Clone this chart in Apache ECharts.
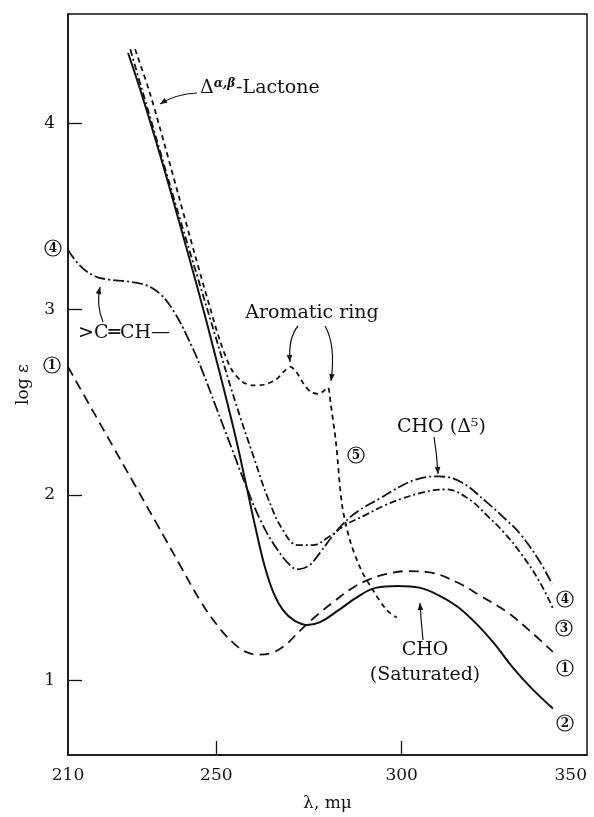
<!DOCTYPE html>
<html>
<head>
<meta charset="utf-8">
<script src="https://cdn.jsdelivr.net/npm/echarts@6/dist/echarts.min.js"></script>
<style>
html, body { margin: 0; padding: 0; background: #fff; }
#main { width: 594px; height: 817px; }
</style>
</head>
<body>
<div id="main"></div>
<script>
// wavelength (mμ) and log ε
var wl1 = [210, 216, 222, 228, 234, 240, 245.6, 250.2, 254.5, 258, 261.5, 265, 268.5, 272.6, 277, 282, 286, 290.6, 296, 301.4, 307, 314.9, 321, 328.4, 334.5, 340.8];
var logE1 = [2.69, 2.478, 2.266, 2.055, 1.843, 1.63, 1.433, 1.30, 1.205, 1.155, 1.14, 1.15, 1.19, 1.27, 1.35, 1.43, 1.49, 1.54, 1.575, 1.59, 1.585, 1.53, 1.46, 1.37, 1.27, 1.155];

var wl2 = [226.2, 230, 235, 240, 245, 250, 255, 258, 260.5, 263, 265.5, 268, 271, 274.5, 278, 283, 288, 293, 299, 305, 310, 315, 320, 325, 330, 335, 340.8];
var logE2 = [4.38, 4.15, 3.82, 3.47, 3.11, 2.73, 2.33, 2.06, 1.83, 1.62, 1.47, 1.38, 1.325, 1.30, 1.315, 1.38, 1.45, 1.50, 1.51, 1.50, 1.46, 1.40, 1.31, 1.20, 1.07, 0.96, 0.85];

var wl3 = [226.8, 230, 235, 240, 245, 250, 255, 260, 264, 268, 272, 276, 280, 285, 290, 295, 300, 306, 312, 318, 323, 327.5, 332, 337, 340.8];
var logE3 = [4.40, 4.18, 3.84, 3.50, 3.17, 2.84, 2.51, 2.21, 1.98, 1.81, 1.73, 1.73, 1.77, 1.84, 1.89, 1.94, 1.98, 2.015, 2.03, 1.98, 1.89, 1.80, 1.69, 1.54, 1.39];

var wl4 = [210, 213, 217, 221, 226, 231, 235, 238.5, 242, 246, 250, 254, 258, 262, 266, 270, 272, 275, 278, 281, 284, 288, 294, 300, 305, 310, 316, 323, 328, 332, 337, 340.6];
var logE4 = [3.32, 3.24, 3.18, 3.16, 3.15, 3.13, 3.08, 2.99, 2.86, 2.68, 2.47, 2.26, 2.05, 1.86, 1.72, 1.62, 1.60, 1.62, 1.69, 1.77, 1.84, 1.91, 1.98, 2.05, 2.09, 2.10, 2.07, 1.96, 1.87, 1.79, 1.65, 1.52];

var wl5 = [228.1, 232, 236, 240, 244, 248, 251, 254, 257, 260, 263, 266, 268.5, 270, 271.5, 273.5, 275.5, 277.5, 279, 280.1, 280.8, 282.3, 283.9, 286, 289, 292.5, 296, 298.7];
var logE5 = [4.40, 4.17, 3.89, 3.60, 3.31, 3.03, 2.83, 2.68, 2.61, 2.59, 2.595, 2.62, 2.67, 2.69, 2.665, 2.60, 2.555, 2.545, 2.56, 2.58, 2.50, 2.28, 1.95, 1.76, 1.60, 1.48, 1.38, 1.34];

var xLabels = [210, 250, 300, 350];
var yLabels = [1, 2, 3, 4];

var serif = 'DejaVu Serif';
var ink = '#111';

function pairs(xs, ys) {
    var out = [];
    for (var i = 0; i < xs.length; i++) out.push([xs[i], ys[i]]);
    return out;
}

function curve(name, xs, ys, dash, width, smooth) {
    return {
        name: name,
        type: 'line',
        data: pairs(xs, ys),
        showSymbol: false,
        smooth: smooth,
        silent: true,
        lineStyle: { color: ink, width: width, type: dash }
    };
}

// arrow = quadratic curve + little head at the end
function arrow(p1, c, p2) {
    var ang = Math.atan2(p2[1] - c[1], p2[0] - c[0]);
    var L = 7, W = 2.8;
    var bx = p2[0] - L * Math.cos(ang), by = p2[1] - L * Math.sin(ang);
    return [
        { type: 'bezierCurve', shape: { x1: p1[0], y1: p1[1], cpx1: c[0], cpy1: c[1], x2: p2[0], y2: p2[1] },
          style: { stroke: ink, lineWidth: 1.2, fill: null } },
        { type: 'polygon', shape: { points: [p2, [bx + W * Math.sin(ang), by - W * Math.cos(ang)], [bx - W * Math.sin(ang), by + W * Math.cos(ang)]] },
          style: { fill: ink } }
    ];
}

function circled(num, x, y) {
    return [
        { type: 'circle', shape: { cx: x, cy: y, r: 8 }, style: { stroke: ink, lineWidth: 1.2, fill: '#fff' } },
        { type: 'text', x: x, y: y + 0.5, style: { text: String(num), font: 'bold 12px "' + serif + '"', fill: ink, align: 'center', verticalAlign: 'middle' } }
    ];
}

function label(text, x, y, align) {
    return { type: 'text', x: x, y: y, style: { text: text, font: '19px "' + serif + '"', fill: ink, align: align || 'left', verticalAlign: 'middle' } };
}

var graphics = [];
graphics.push({
    type: 'text', x: 200, y: 88,
    style: {
        text: 'Δ{sup|α,β}-Lactone',
        font: '19px "' + serif + '"', fill: ink, verticalAlign: 'middle',
        rich: { sup: { font: 'italic bold 12px "' + serif + '"', fill: ink, verticalAlign: 'top', padding: [0, 1, 8, 0] } }
    }
});
graphics = graphics.concat(arrow([197, 93], [176, 94], [160, 104]));
graphics.push(label('>C═CH—', 78, 333));
graphics = graphics.concat(arrow([103, 322], [96, 305], [100, 287]));
graphics.push(label('Aromatic ring', 312, 313, 'center'));
graphics = graphics.concat(arrow([298, 326], [288, 338], [290, 362]));
graphics = graphics.concat(arrow([325, 326], [336, 345], [331, 381]));
graphics.push(label('CHO (Δ⁵)', 397, 427));
graphics = graphics.concat(arrow([434, 437], [437, 455], [438, 474]));
graphics.push(label('CHO', 425, 650, 'center'));
graphics.push(label('(Saturated)', 425, 675, 'center'));
graphics = graphics.concat(arrow([423, 640], [421, 620], [420, 603]));
graphics = graphics.concat(circled(4, 53, 248), circled(1, 52, 365), circled(5, 356, 455));
graphics = graphics.concat(circled(4, 565, 599), circled(3, 564, 628), circled(1, 565, 668), circled(2, 565, 723));

var chart = echarts.init(document.getElementById('main'), null, { renderer: 'canvas' });
var option = {
    animation: false,
    backgroundColor: '#fff',
    grid: { left: 68, top: 14, right: 7, bottom: 55, show: true, borderColor: ink, borderWidth: 1.5 },
    xAxis: {
        type: 'value', min: 210, max: 350,
        name: 'λ, mμ', nameLocation: 'middle', nameGap: 40,
        nameTextStyle: { fontFamily: serif, fontSize: 17, color: ink },
        axisLine: { lineStyle: { color: ink, width: 1.5 } },
        axisTick: { inside: true, length: 14, customValues: [250, 300], lineStyle: { color: ink, width: 1.3 } },
        axisLabel: { customValues: xLabels, fontFamily: serif, fontSize: 17, color: ink, margin: 12, alignMaxLabel: 'right' },
        splitLine: { show: false }
    },
    yAxis: {
        type: 'value', min: 0.6, max: 4.59,
        name: 'log ε', nameLocation: 'middle', nameGap: 36, nameRotate: 90,
        nameTextStyle: { fontFamily: serif, fontSize: 17, color: ink },
        axisLine: { lineStyle: { color: ink, width: 1.5 } },
        axisTick: { inside: true, length: 14, customValues: yLabels, lineStyle: { color: ink, width: 1.3 } },
        axisLabel: { customValues: yLabels, fontFamily: serif, fontSize: 17, color: ink, margin: 13 },
        splitLine: { show: false }
    },
    series: [
        curve('1', wl1, logE1, [10, 6], 1.8, 0.4),
        curve('2', wl2, logE2, 'solid', 2, 0.4),
        curve('3', wl3, logE3, [7, 3, 2, 3], 1.8, 0.4),
        curve('4', wl4, logE4, [11, 3, 2, 3], 1.8, 0.4),
        curve('5', wl5, logE5, [5, 4], 1.8, 0.3)
    ],
    graphic: graphics
};
chart.setOption(option);
</script>
</body>
</html>
